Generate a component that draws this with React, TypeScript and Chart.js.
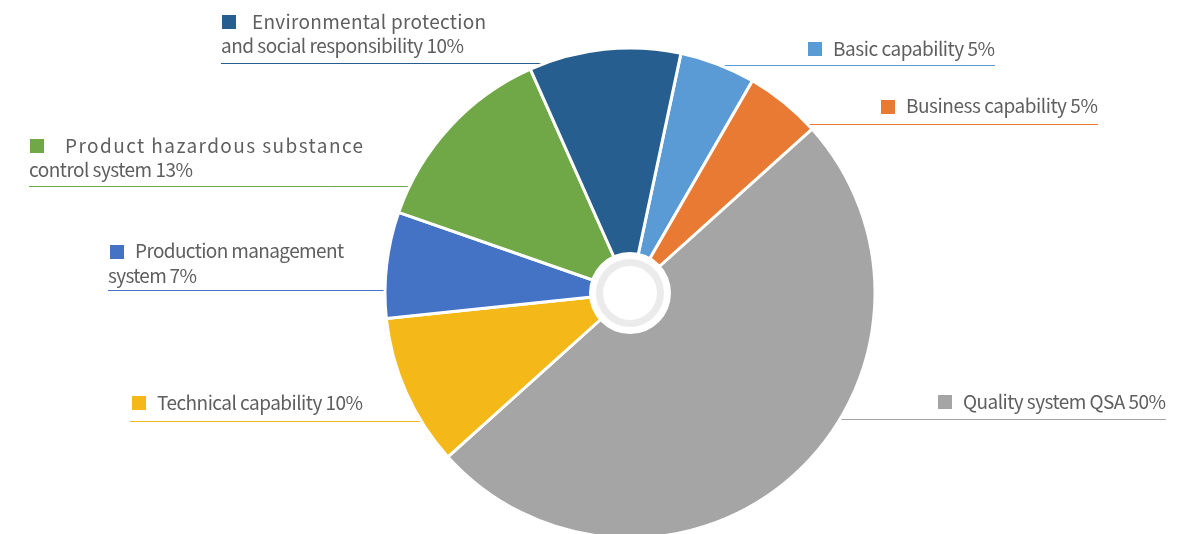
import React, { useEffect, useRef } from 'react';
import { Chart, registerables } from 'chart.js';

Chart.register(...registerables);

const categories = [
  'Basic capability',
  'Business capability',
  'Quality system QSA',
  'Technical capability',
  'Production management system',
  'Product hazardous substance control system',
  'Environmental protection and social responsibility',
];
const values = [5, 5, 50, 10, 7, 13, 10];
const colors = ['#5B9BD5', '#E97A33', '#A5A5A5', '#F4B918', '#4472C4', '#70A847', '#255E8F'];

// label layout: square position, text lines (start x, baseline y, fit-to end x), leader line
const labelLayout = [
  { sq: [808, 42], words: 0, lines: [{ x: 833, y: 56, end: 995 }], leaderY: 65, leaderX: 995 },
  { sq: [881, 100], words: 0, lines: [{ x: 906, y: 113, end: 1098 }], leaderY: 124, leaderX: 1098 },
  { sq: [938, 395], words: 0, lines: [{ x: 963, y: 409, end: 1166 }], leaderY: 419, leaderX: 1166 },
  { sq: [132, 396], words: 0, lines: [{ x: 157, y: 410, end: 363 }], leaderY: 421, leaderX: 130 },
  { sq: [110, 245], words: 2, lines: [{ x: 135, y: 258, end: 344 }, { x: 108, y: 283, end: 197 }], leaderY: 290, leaderX: 108 },
  { sq: [30, 139], words: 3, lines: [{ x: 65, y: 153, end: 363 }, { x: 29, y: 177, end: 193 }], leaderY: 186, leaderX: 29 },
  { sq: [222, 15], words: 2, lines: [{ x: 252, y: 29, end: 486 }, { x: 221, y: 53, end: 464 }], leaderY: 63, leaderX: 221 },
];

const FONT = '400 19px "Noto Sans CJK SC", "Noto Sans", sans-serif';
const TEXT_COLOR = '#5f5f5f';

const labelsPlugin = {
  id: 'sideLabels',
  beforeDatasetsDraw(chart: any) {
    const ctx = chart.ctx;
    const meta = chart.getDatasetMeta(0);
    const cx = meta.data[0].x;
    ctx.save();
    labelLayout.forEach((lay, i) => {
      ctx.strokeStyle = colors[i];
      ctx.lineWidth = 1;
      ctx.beginPath();
      ctx.moveTo(lay.leaderX, lay.leaderY + 0.5);
      ctx.lineTo(cx, lay.leaderY + 0.5);
      ctx.stroke();
      ctx.fillStyle = colors[i];
      ctx.fillRect(lay.sq[0], lay.sq[1], 14, 14);
      const full = `${categories[i]} ${values[i]}%`;
      let texts: string[];
      if (lay.words > 0) {
        const w = full.split(' ');
        texts = [w.slice(0, lay.words).join(' '), w.slice(lay.words).join(' ')];
      } else {
        texts = [full];
      }
      ctx.font = FONT;
      ctx.fillStyle = TEXT_COLOR;
      ctx.textBaseline = 'alphabetic';
      ctx.textAlign = 'left';
      texts.forEach((t, k) => {
        const ln = lay.lines[k];
        (ctx as any).letterSpacing = '0px';
        const natural = ctx.measureText(t).width;
        const ls = (ln.end - ln.x - natural) / Math.max(t.length - 1, 1);
        (ctx as any).letterSpacing = ls.toFixed(2) + 'px';
        ctx.fillText(t, ln.x, ln.y);
      });
      (ctx as any).letterSpacing = '0px';
    });
    ctx.restore();
  },
  afterDatasetsDraw(chart: any) {
    const ctx = chart.ctx;
    const meta = chart.getDatasetMeta(0);
    const cx = meta.data[0].x;
    const cy = meta.data[0].y;
    ctx.save();
    const circle = (r: number, c: string) => {
      ctx.beginPath();
      ctx.arc(cx, cy, r, 0, Math.PI * 2);
      ctx.fillStyle = c;
      ctx.fill();
    };
    circle(41, '#ffffff');
    circle(34, '#ebebeb');
    circle(27, '#ffffff');
    ctx.restore();
  },
};

export default function App() {
  const ref = useRef<HTMLCanvasElement>(null);
  useEffect(() => {
    if (!ref.current) return;
    const chart = new Chart(ref.current, {
      type: 'pie',
      data: {
        labels: categories,
        datasets: [
          {
            data: values,
            backgroundColor: colors,
            borderColor: '#ffffff',
            borderWidth: 3,
            radius: 245,
          } as any,
        ],
      },
      options: {
        animation: false,
        responsive: true,
        maintainAspectRatio: false,
        rotation: 12,
        layout: { padding: { left: 59, right: 0, top: 52, bottom: 0 } },
        plugins: { legend: { display: false }, tooltip: { enabled: false } },
        events: [],
      },
      plugins: [labelsPlugin],
    });
    return () => chart.destroy();
  }, []);
  return (
    <div style={{ position: 'fixed', left: 0, top: 0, width: 1201, height: 534, overflow: 'hidden', background: '#fff' }}>
      <canvas ref={ref} />
    </div>
  );
}
